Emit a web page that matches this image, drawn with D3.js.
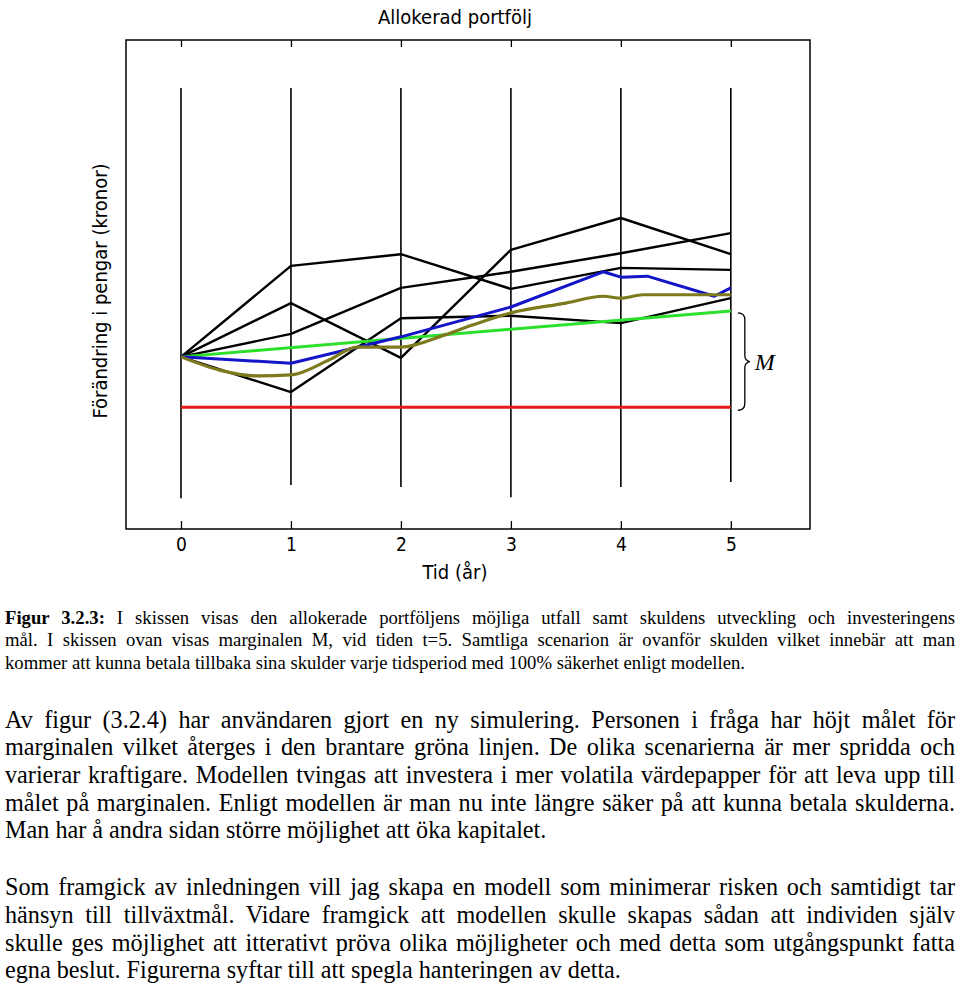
<!DOCTYPE html>
<html><head><meta charset="utf-8">
<script src="https://cdn.jsdelivr.net/npm/d3@7"></script>
<style>
body{margin:0;background:#fff;width:960px;height:984px;overflow:hidden;position:relative}
.ln{position:absolute;left:5px;width:960px;font-family:"Liberation Serif","Times New Roman",serif;white-space:nowrap;color:#000}
</style></head><body>
<svg id="chart" width="960" height="600" style="position:absolute;left:0;top:0"></svg>
<div id="text"></div>
<script>
// ---- data ----
const years = [0, 1, 2, 3, 4, 5];
const tickLabels = ["0", "1", "2", "3", "4", "5"];
const spreadTop = [90.2, 90.2, 90.2, 90.2, 90.2, 90.2];
const spreadBottom = [6.3, 9.0, 8.6, 6.5, 8.6, 9.6];
const scenarioA = [35.2, 53.8, 56.2, 49.1, 53.4, 53.0];
const scenarioB = [35.2, 46.2, 35.0, 57.1, 63.6, 56.2];
const scenarioC = [35.2, 39.9, 49.3, 52.6, 56.4, 60.5];
const scenarioD = [35.2, 28.0, 43.1, 43.6, 42.1, 47.2];
const debtX = [0, 5];
const debtY = [24.9, 24.9];
const targetX = [0, 5];
const targetY = [35.2, 44.6];
const blueX = [0, 1, 2, 3, 3.84, 4, 4.24, 4.85, 5];
const blueY = [35.2, 33.9, 39.3, 45.4, 52.6, 51.5, 51.7, 47.6, 49.3];
const oliveX = [0, 0.35, 0.7, 1, 1.35, 1.6, 2, 2.4, 2.65, 3, 3.5, 3.84, 4, 4.2, 5];
const oliveY = [35.2, 32.5, 31.3, 31.5, 34.6, 37.2, 37.2, 39.7, 41.7, 44.2, 46.2, 47.6, 47.2, 47.9, 47.9];
const titleText = "Allokerad portfölj";
const xLabel = "Tid (år)";
const yLabel = "Förändring i pengar (kronor)";
const marginLabel = "M";

const para1 = [
  "<b>Figur 3.2.3:</b> I skissen visas den allokerade portföljens möjliga utfall samt skuldens utveckling och investeringens",
  "mål. I skissen ovan visas marginalen M, vid tiden t=5. Samtliga scenarion är ovanför skulden vilket innebär att man",
  "kommer att kunna betala tillbaka sina skulder varje tidsperiod med 100% säkerhet enligt modellen."
];
const para2 = [
  "Av figur (3.2.4) har användaren gjort en ny simulering. Personen i fråga har höjt målet för",
  "marginalen vilket återges i den brantare gröna linjen. De olika scenarierna är mer spridda och",
  "varierar kraftigare. Modellen tvingas att investera i mer volatila värdepapper för att leva upp till",
  "målet på marginalen. Enligt modellen är man nu inte längre säker på att kunna betala skulderna.",
  "Man har å andra sidan större möjlighet att öka kapitalet."
];
const para3 = [
  "Som framgick av inledningen vill jag skapa en modell som minimerar risken och samtidigt tar",
  "hänsyn till tillväxtmål. Vidare framgick att modellen skulle skapas sådan att individen själv",
  "skulle ges möjlighet att itterativt pröva olika möjligheter och med detta som utgångspunkt fatta",
  "egna beslut. Figurerna syftar till att spegla hanteringen av detta."
];

// ---- chart ----
const svg = d3.select("#chart");
const x = d3.scaleLinear().domain([-0.5, 5.72]).range([126, 810]);
const y = d3.scaleLinear().domain([0, 100]).range([529, 40]);
const sansNarrow = '"Liberation Sans Narrow","Arial Narrow","DejaVu Sans Condensed",sans-serif';

// spread verticals
svg.append("g").selectAll("line").data(years).join("line")
  .attr("x1", (d) => x(d)).attr("x2", (d) => x(d))
  .attr("y1", (d, i) => y(spreadTop[i])).attr("y2", (d, i) => y(spreadBottom[i]))
  .attr("stroke", "#000").attr("stroke-width", 1.6);

// frame
svg.append("rect")
  .attr("x", x.range()[0]).attr("y", y.range()[1])
  .attr("width", x.range()[1] - x.range()[0]).attr("height", y.range()[0] - y.range()[1])
  .attr("fill", "none").attr("stroke", "#000").attr("stroke-width", 1.5);

// axes
const xb = svg.append("g").attr("transform", `translate(0,${y.range()[0]})`)
  .call(d3.axisBottom(x).tickValues(years).tickFormat((d, i) => tickLabels[i]).tickSizeInner(-8).tickSizeOuter(0).tickPadding(9));
xb.select(".domain").remove();
xb.selectAll("line").attr("stroke-width", 1.3);
xb.selectAll("text").attr("font-family", sansNarrow).attr("font-size", 19).attr("fill", "#000");
const xt = svg.append("g").attr("transform", `translate(0,${y.range()[1]})`)
  .call(d3.axisTop(x).tickValues(years).tickFormat("").tickSizeInner(-7).tickSizeOuter(0));
xt.select(".domain").remove();
xt.selectAll("line").attr("stroke-width", 1.3);

const line = d3.line().x((d) => x(d[0])).y((d) => y(d[1]));
const blacks = [scenarioA, scenarioB, scenarioC, scenarioD];
svg.append("g").selectAll("path").data(blacks).join("path")
  .attr("d", (s) => line(years.map((t, i) => [t, s[i]])))
  .attr("fill", "none").attr("stroke", "#000").attr("stroke-width", 2.4).attr("stroke-linejoin", "round");

svg.append("path").attr("d", line(targetX.map((t, i) => [t, targetY[i]])))
  .attr("fill", "none").attr("stroke", "#2ee02e").attr("stroke-width", 3);
svg.append("path").attr("d", line(blueX.map((t, i) => [t, blueY[i]])))
  .attr("fill", "none").attr("stroke", "#1414c8").attr("stroke-width", 3).attr("stroke-linejoin", "round");
svg.append("path").attr("d", line.curve(d3.curveMonotoneX)(oliveX.map((t, i) => [t, oliveY[i]])))
  .attr("fill", "none").attr("stroke", "#7d7a1e").attr("stroke-width", 3.2);
line.curve(d3.curveLinear);
svg.append("path").attr("d", line(debtX.map((t, i) => [t, debtY[i]])))
  .attr("fill", "none").attr("stroke", "#e21a1a").attr("stroke-width", 3);

// brace for margin M
const bx = x(5) + 11;
const yt = y(targetY[1]) + 2, yb = y(debtY[1]) + 3, ym = (yt + yb) / 2;
const brace = `M${bx - 4},${yt} Q${bx + 3},${yt} ${bx + 3},${yt + 7} L${bx + 3},${ym - 6} Q${bx + 3},${ym - 1} ${bx + 8},${ym} Q${bx + 3},${ym + 1} ${bx + 3},${ym + 6} L${bx + 3},${yb - 7} Q${bx + 3},${yb} ${bx - 4},${yb}`;
svg.append("path").attr("d", brace).attr("fill", "none").attr("stroke", "#000").attr("stroke-width", 1.3);
svg.append("text").attr("x", bx + 13).attr("y", ym + 8).text(marginLabel)
  .attr("font-family", '"Liberation Serif",serif').attr("font-style", "italic").attr("font-size", 24);

// titles
svg.append("text").attr("x", 455).attr("y", 24).attr("text-anchor", "middle").text(titleText)
  .attr("font-family", sansNarrow).attr("font-size", 20);
svg.append("text").attr("x", 455).attr("y", 579).attr("text-anchor", "middle").text(xLabel)
  .attr("font-family", sansNarrow).attr("font-size", 20);
svg.append("text").attr("transform", "translate(107,291) rotate(-90)").attr("text-anchor", "middle").text(yLabel)
  .attr("font-family", sansNarrow).attr("font-size", 20);

// ---- paragraphs (manual justification to 950px) ----
const tdiv = d3.select("#text");
const fullWidth = 950;
function para(lines, centers, size, lh) {
  lines.forEach((t, i) => {
    const div = tdiv.append("div").attr("class", "ln")
      .style("top", (centers[i] - lh / 2 - 1) + "px").style("font-size", size + "px")
      .style("line-height", lh + "px").style("height", lh + "px");
    const span = div.append("span").html(t);
    if (i < lines.length - 1) {
      const w = span.node().getBoundingClientRect().width;
      const spaces = (span.node().textContent.match(/ /g) || []).length;
      if (spaces > 0) div.style("word-spacing", ((fullWidth - w) / spaces) + "px");
    }
  });
}
para(para1, [619, 641, 664], 18.7, 22);
para(para2, [720, 747, 775, 803, 830], 24.2, 27);
para(para3, [887, 915, 943, 970], 24.2, 27);
</script>
</body></html>
